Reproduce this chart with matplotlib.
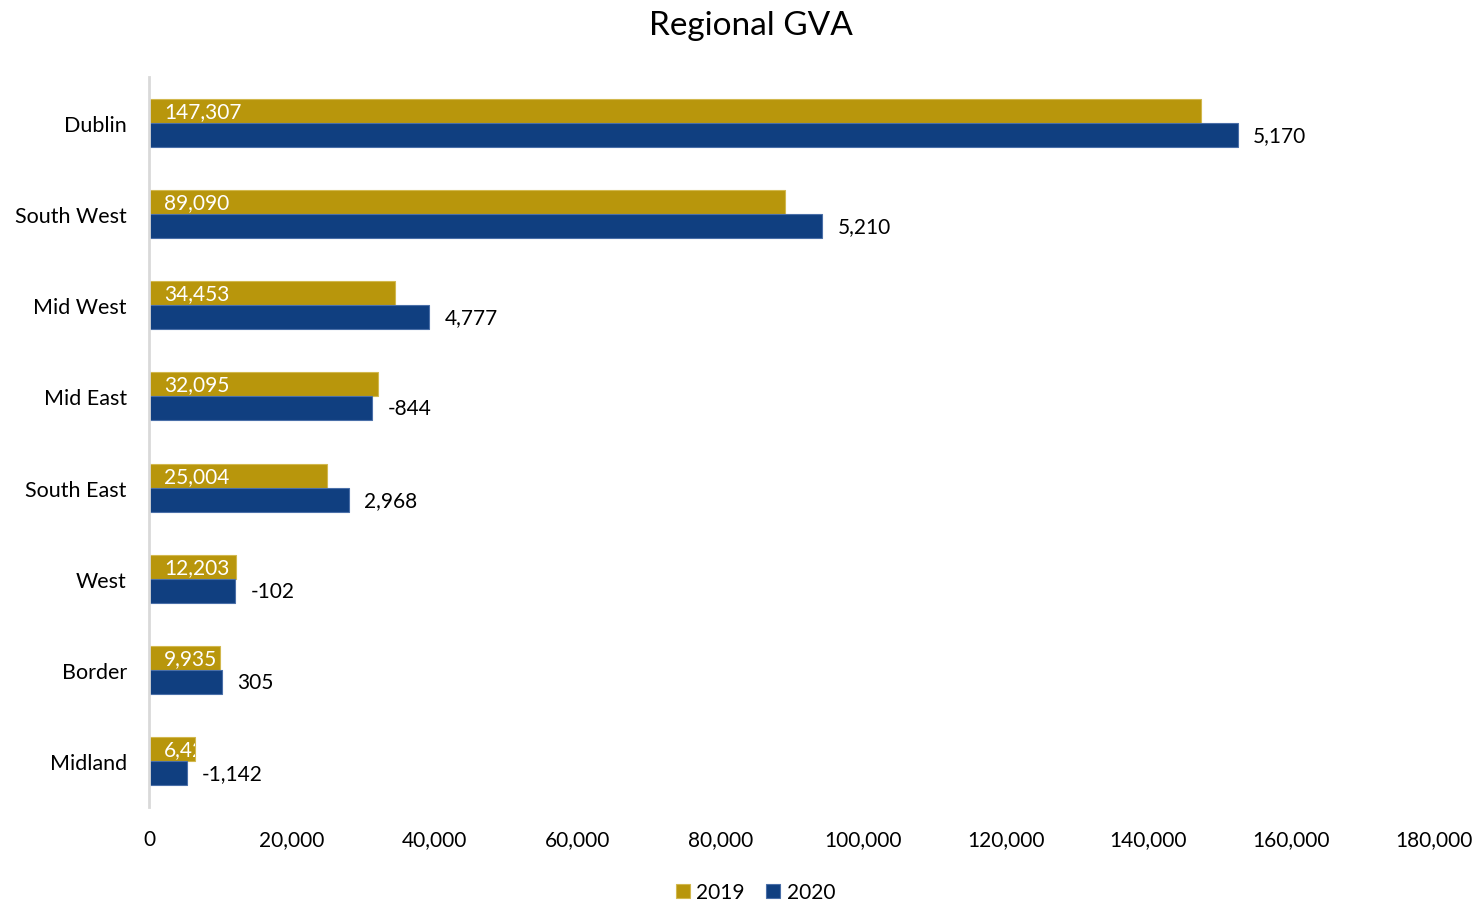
import matplotlib.pyplot as plt
import numpy as np

plt.rcParams['font.family'] = ['Lato', 'DejaVu Sans']

regions = ["Dublin", "South West", "Mid West", "Mid East", "South East", "West", "Border", "Midland"]
gva_2019 = [147307, 89090, 34453, 32095, 25004, 12203, 9935, 6420]
gva_2020 = [152477, 94300, 39230, 31251, 27972, 12101, 10240, 5278]
change = [5170, 5210, 4777, -844, 2968, -102, 305, -1142]

gold = "#B8960C"
navy = "#103F80"

fig = plt.figure(figsize=(14.81, 9.04), dpi=100)
ax = fig.add_axes([0.1006, 0.1062, 0.8677, 0.8075])

y = np.arange(len(regions))
h = 0.263
bars19 = ax.barh(y - h / 2, gva_2019, height=h, color=gold, edgecolor="#D2B84E", linewidth=0.8, label="2019")
bars20 = ax.barh(y + h / 2, gva_2020, height=h, color=navy, edgecolor="#4A6FA8", linewidth=0.8, label="2020")

ax.set_xlim(0, 180000)
ax.set_ylim(len(regions) - 0.5, -0.5)
ax.set_yticks(y)
ax.set_yticklabels(regions, fontsize=15.5)
ax.set_xticks(np.arange(0, 180001, 20000))
ax.set_xticklabels([f"{v:,}" for v in range(0, 180001, 20000)], fontsize=15)
ax.tick_params(axis="both", length=0)
ax.tick_params(axis="x", pad=16)
ax.tick_params(axis="y", pad=16)

for s in ["top", "right", "bottom"]:
    ax.spines[s].set_visible(False)
ax.spines["left"].set_color("#D9D9D9")
ax.spines["left"].set_linewidth(2)

# 2019 labels inside base, clipped to bar like Excel
for bar, v in zip(bars19, gva_2019):
    t = ax.annotate(f"{v:,}", (0, bar.get_y() + bar.get_height() / 2),
                    xytext=(11, 0), textcoords="offset points", ha="left", va="center",
                    color="white", fontsize=15)
    t.set_clip_path(bar)

for bar, c in zip(bars20, change):
    ax.annotate(f"{c:,}", (bar.get_width(), bar.get_y() + bar.get_height() / 2),
                xytext=(11, 0), textcoords="offset points", ha="left", va="center",
                color="black", fontsize=15)

fig.suptitle("Regional GVA", fontsize=24, x=0.507, y=0.988)
fig.legend(handles=[bars19, bars20], labels=["2019", "2020"], loc="lower center",
           bbox_to_anchor=(0.51, -0.02), ncol=2, frameon=False, fontsize=15,
           handlelength=0.7, handleheight=0.7, handletextpad=0.3, columnspacing=1.0)

fig.savefig("out.png", dpi=100)
